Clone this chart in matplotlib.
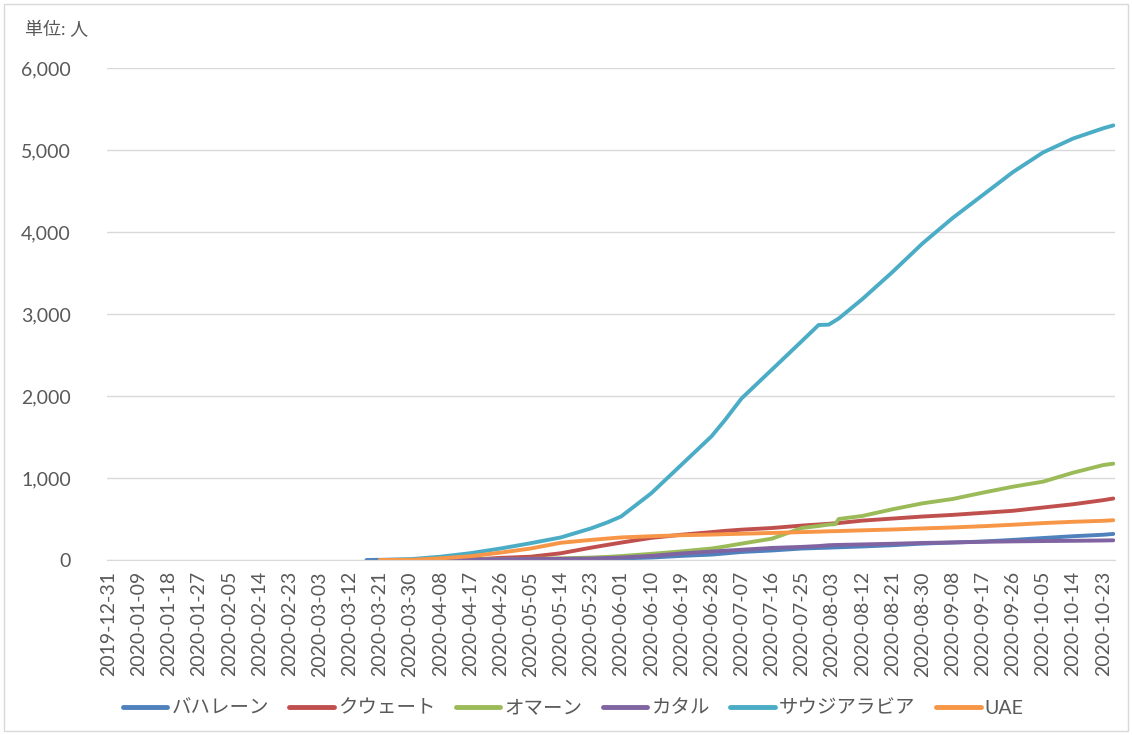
import numpy as np
import pandas as pd
import matplotlib
matplotlib.use("Agg")
import matplotlib.pyplot as plt
from matplotlib.patches import Rectangle

plt.rcParams['font.family'] = ['Lato', 'Noto Sans CJK JP', 'DejaVu Sans']

# 軸の範囲 (カテゴリ = 日付)
start_date = "2019-12-31"
end_date = "2020-10-26"
tick_step = 9

# 読み取った累計死亡者数
dates = ["2020-03-17", "2020-03-21", "2020-03-30", "2020-04-08", "2020-04-17",
         "2020-04-26", "2020-05-05", "2020-05-14", "2020-05-23", "2020-05-28",
         "2020-06-01", "2020-06-10", "2020-06-19", "2020-06-28", "2020-07-02",
         "2020-07-07", "2020-07-16", "2020-07-25", "2020-07-30", "2020-08-02",
         "2020-08-04", "2020-08-05", "2020-08-12", "2020-08-21", "2020-08-30",
         "2020-09-08", "2020-09-17", "2020-09-26", "2020-10-05", "2020-10-14",
         "2020-10-23", "2020-10-26"]
bahrain = [0, 2, 4, 5, 7, 8, 10, 12, 14, 17, 19, 30, 50, 66, 80, 98, 116, 140,
           147, 150, 154, 155, 165, 180, 200, 213, 225, 245, 268, 290, 308, 318]
kuwait = [None, 0, 0, 1, 3, 26, 40, 82, 150, 185, 212, 270, 308, 340, 355, 370,
          390, 420, 433, 442, 448, 451, 480, 505, 530, 550, 575, 600, 640, 680,
          730, 750]
oman = [None, 0, 0, 3, 6, 10, 14, 20, 30, 38, 48, 75, 105, 140, 165, 200, 260,
        390, 415, 432, 437, 500, 537, 618, 691, 744, 821, 894, 955, 1065, 1158,
        1175]
qatar = [None, 0, 1, 6, 7, 10, 12, 14, 18, 25, 30, 50, 80, 103, 113, 125, 147,
         160, 170, 180, 183, 184, 190, 198, 208, 214, 222, 227, 231, 234, 238, 240]
saudi = [None, 0, 10, 40, 83, 140, 205, 275, 385, 460, 530, 813, 1160, 1508,
         1705, 1971, 2320, 2670, 2866, 2870, 2920, 2945, 3180, 3510, 3860, 4170,
         4450, 4730, 4970, 5140, 5265, 5300]
uae = [None, 0, 2, 20, 46, 90, 140, 210, 245, 262, 275, 290, 302, 310, 315, 320,
       330, 340, 346, 350, 352, 353, 362, 372, 385, 397, 412, 430, 450, 466, 478,
       485]

series_names = ["バハレーン", "クウェート", "オマーン", "カタル", "サウジアラビア", "UAE"]
series_values = [bahrain, kuwait, oman, qatar, saudi, uae]
series_colors = ["#4F81BD", "#C0504D", "#9BBB59", "#8064A2", "#4BACC6", "#F79646"]

all_days = pd.date_range(start_date, end_date, freq="D")
t0 = pd.Timestamp(start_date)
x = np.array([(pd.Timestamp(d) - t0).days for d in dates])

fig = plt.figure(figsize=(11.32, 7.35), dpi=100)
ax = fig.add_axes([107 / 1132, 1 - 560 / 735, (1115 - 107) / 1132, (560 - 68) / 735])

text_color = "#595959"
grid_color = "#D9D9D9"

for name, vals, col in zip(series_names, series_values, series_colors):
    y = pd.to_numeric(pd.Series(vals), errors="coerce").to_numpy(dtype=float)
    ax.plot(x, y, color=col, lw=2.8, solid_capstyle="round",
            solid_joinstyle="round", label=name)

ax.set_xlim(-0.5, len(all_days) - 0.5)
ax.set_ylim(0, 6000)
ax.set_yticks(np.arange(0, 6001, 1000))
ax.set_yticklabels([f"{v:,}" for v in range(0, 6001, 1000)])

tick_pos = np.arange(0, len(all_days), tick_step)
ax.set_xticks(tick_pos)
ax.set_xticklabels([all_days[i].strftime("%Y-%m-%d") for i in tick_pos], rotation=90)

ax.grid(axis="y", color=grid_color, lw=1)
ax.set_axisbelow(True)
for s in ["top", "right", "left"]:
    ax.spines[s].set_visible(False)
ax.spines["bottom"].set_color(grid_color)
ax.tick_params(axis="both", length=0, colors=text_color, labelsize=14)
ax.tick_params(axis="y", pad=26)
ax.tick_params(axis="x", pad=8)

fig.text(25 / 1132, 1 - 30 / 735, "単位: 人", fontsize=13, color=text_color,
         va="center", ha="left")

leg = fig.legend(loc="center", bbox_to_anchor=(573 / 1132, 1 - 708 / 735), ncol=6,
                 frameon=False, fontsize=14, handlelength=2.3, handletextpad=0.2,
                 columnspacing=1.05)
for t in leg.get_texts():
    t.set_color(text_color)
for h in leg.legend_handles:
    h.set_linewidth(3.5)

fig.patches.append(Rectangle((4 / 1132, 4 / 735), 1 - 8 / 1132, 1 - 8 / 735,
                             transform=fig.transFigure, fill=False,
                             edgecolor=grid_color, lw=1))

fig.savefig("out.png", dpi=100)
